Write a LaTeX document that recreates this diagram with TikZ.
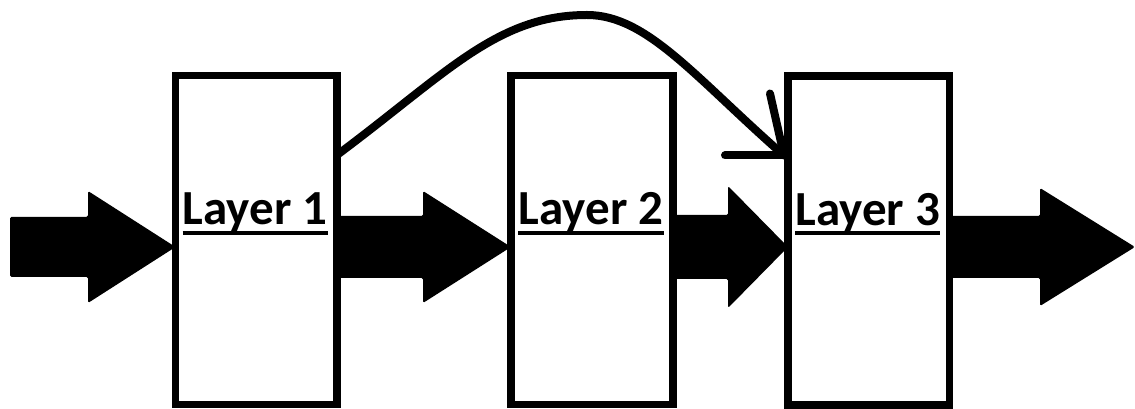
\documentclass[tikz,border=0pt]{standalone}
\usepackage{fontspec}
\setmainfont{Carlito}
\usetikzlibrary{calc}
\newcommand\fatarrow[5]{% tail, tip, head length, shaft half, head half
  \fill[fat] let \p1=(#1), \p2=(#2) in
    (\x1,\y2+#4pt) -- (\x2-#3pt,\y2+#4pt) -- (\x2-#3pt,\y2+#5pt) -- (\x2,\y2)
    -- (\x2-#3pt,\y2-#5pt) -- (\x2-#3pt,\y2-#4pt) -- (\x1,\y2-#4pt) -- cycle;}
\begin{document}
\begin{tikzpicture}[x=1pt,y=1pt,
  layerbox/.style={draw, line width=7.5pt, minimum width=161.5pt, minimum height=329pt, inner sep=0pt, outer sep=0pt},
  layertext/.style={font=\fontsize{49}{50}\selectfont\bfseries, inner sep=0pt, anchor=base},
  uline/.style={line width=4pt},
  fat/.style={fill=black, rounded corners=1.5pt},
  skiparrow/.style={line width=8pt, line cap=round, line join=round}]
\useasboundingbox (0,0) rectangle (1135,409);
\coordinate (mid) at (0,162);
\coordinate (in) at (10,162);
\coordinate (out) at (1135,162);
% boxes
\node[layerbox] (b1) at (256.25,169) {};
\node[layerbox, minimum width=162pt] (b2) at (592,169) {};
\node[layerbox] (b3) at (868.75,168.5) {};
% labels
\foreach \i in {1,2,3}{
  \node[layertext] (t\i) at ($(b\i.center)+(-1,15)$) {Layer \i};
  \draw[uline] ($(t\i.base west)+(0,-8)$) -- ($(t\i.base east)+(0,-8)$);
}
% fat arrows
\fatarrow{in}{b1.west |- mid}{87.5}{30}{56}
\fatarrow{b1.east}{b2.west |- mid}{88}{31}{56}
\fatarrow{b2.east}{b3.west |- mid}{60}{32}{61}
\fatarrow{b3.east}{out}{95}{31}{59}
% skip connection
\coordinate (s) at ($(b1.east)+(0,85)$);
\coordinate (top) at (587,394);
\coordinate (e) at ($(b3.west)+(-4,85)$);
\draw[skiparrow] (s) .. controls +(110,82) and +(-90,0) .. (top)
  .. controls +(60,0) and +(-89,78) .. (e);
\draw[skiparrow] (e) -- +(-14,62);
\draw[skiparrow] (e) -- +(-59,0);
\end{tikzpicture}
\end{document}
